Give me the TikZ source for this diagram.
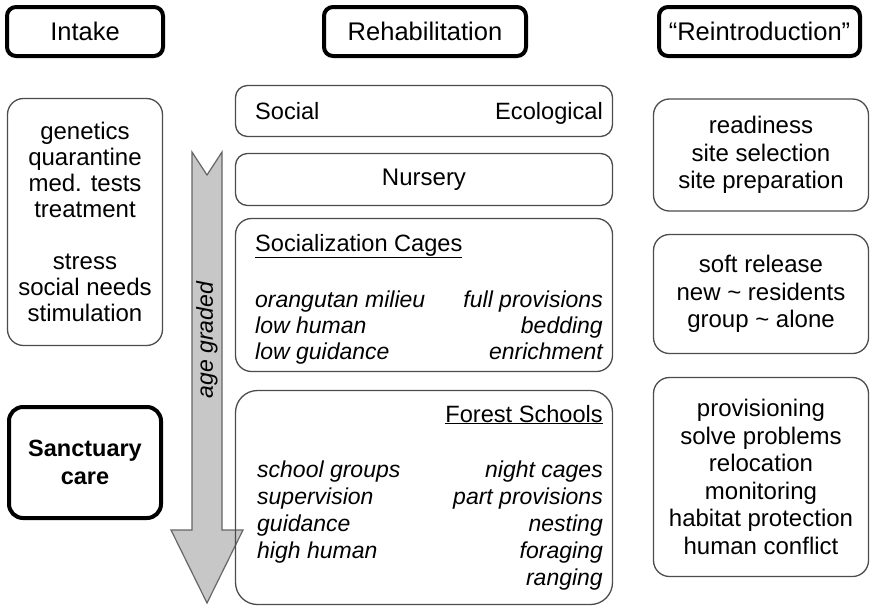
\documentclass[tikz,border=0pt]{standalone}
\usepackage{fontspec}
\setmainfont{Liberation Sans}
\tikzset{
  head/.style={draw, line width=4pt, rounded corners=9pt, minimum width=156pt, minimum height=49pt, font=\fontsize{25.5}{28}\selectfont},
  pane/.style={draw=black!70, line width=1.3pt, rounded corners=16pt, align=center, font=\fontsize{24}{27.5}\selectfont},
  txt/.style={inner sep=0pt, font=\fontsize{23.6}{27}\selectfont},
  itx/.style={inner sep=0pt, font=\fontsize{23}{27}\selectfont\itshape},
  agearrow/.style={draw=black!60, line width=1.2pt, fill=black!22},
}
\begin{document}
\begin{tikzpicture}[x=1pt,y=-1pt]
\useasboundingbox (0,0) rectangle (870,606);
\fill[white] (0,0) rectangle (870,606);
\draw[agearrow] (192,152) -- (207,175) -- (222,152) -- (222,530) -- (243,530) -- (207,603) -- (171,530) -- (192,530) -- cycle;
\node[itx, rotate=90] (age) at (207,340) {age graded};
\node[head] (intake) at (85,31.5) {Intake};
\node[head, minimum width=202pt] (rehab) at (425,31.5) {Rehabilitation};
\node[head, minimum width=201pt] (reintro) at (759.5,31.5) {``Reintroduction''};
\node[pane, minimum width=155pt, minimum height=247pt, font=\fontsize{24}{26}\selectfont] (intakelist) at (85,222)
  {genetics\\quarantine\\med. tests\\treatment\\[26pt]stress\\social needs\\stimulation};
\node[head, minimum width=152pt, minimum height=111pt, rounded corners=14pt, align=center, font=\fontsize{23.5}{28}\selectfont\bfseries] (sanct) at (85,462.5) {Sanctuary\\care};
\node[pane, minimum width=377pt, minimum height=51pt, rounded corners=12pt] (soceco) at (424,111) {};
\node[txt, anchor=base west] (soc) at (255,119) {Social};
\node[txt, anchor=base east] (eco) at (603,119) {Ecological};
\node[pane, minimum width=377pt, minimum height=52pt, rounded corners=12pt] (nursery) at (424,179.5) {Nursery};
\node[pane, minimum width=377pt, minimum height=153pt] (cages) at (424,295) {};
\node[txt, anchor=base west] (cagetitle) at (255,251) {\underline{Socialization Cages}};
\foreach \t [count=\i from 0] in {orangutan milieu, low human, low guidance}
  \node[itx, anchor=base west] (cl\i) at (255,{307+26*\i}) {\t};
\foreach \t [count=\i from 0] in {full provisions, bedding, enrichment}
  \node[itx, anchor=base east] (cr\i) at (603,{307+26*\i}) {\t};
\node[pane, minimum width=377pt, minimum height=214pt, rounded corners=22pt] (forest) at (424,497.5) {};
\node[txt, anchor=base east] (foresttitle) at (603,422) {\underline{Forest Schools}};
\foreach \t [count=\i from 0] in {school groups, supervision, guidance, high human}
  \node[itx, anchor=base west] (fl\i) at (257,{477+27*\i}) {\t};
\foreach \t [count=\i from 0] in {night cages, part provisions, nesting, foraging, ranging}
  \node[itx, anchor=base east] (fr\i) at (603,{477+27*\i}) {\t};
\node[pane, minimum width=215pt, minimum height=112pt] (ready) at (761,155) {readiness\\site selection\\site preparation};
\node[pane, minimum width=215pt, minimum height=119pt] (soft) at (761,294) {soft release\\new \textasciitilde{} residents\\group \textasciitilde{} alone};
\node[pane, minimum width=215pt, minimum height=199pt] (prov) at (761,477)
  {provisioning\\solve problems\\relocation\\monitoring\\habitat protection\\human conflict};
\end{tikzpicture}
\end{document}
